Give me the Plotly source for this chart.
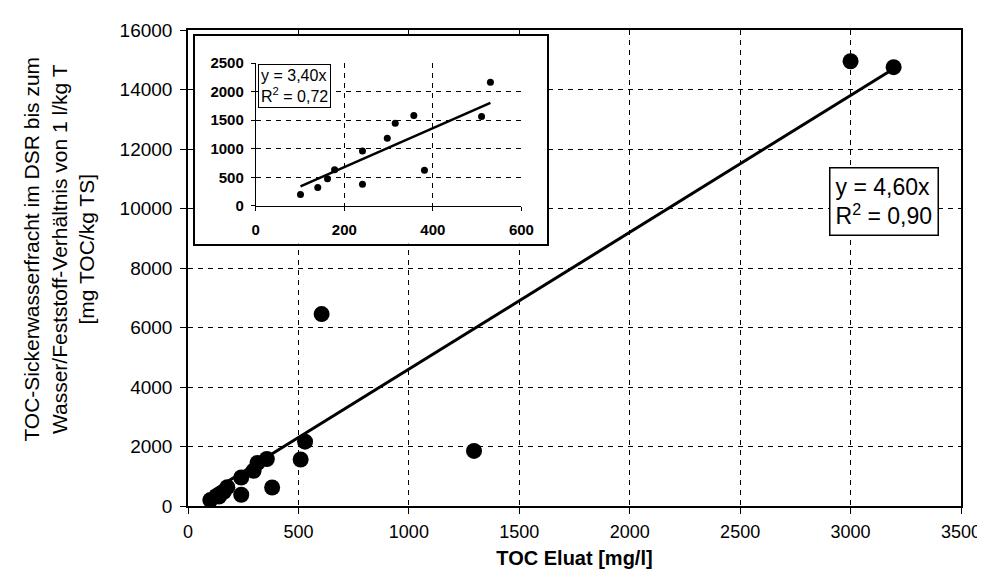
import plotly.graph_objects as go

# ---- data ----
inset_x = [101, 140, 162, 178, 241, 241, 297, 315, 357, 381, 510, 530]
inset_y = [198, 320, 477, 634, 378, 959, 1186, 1448, 1581, 622, 1564, 2163]

extra_x = [605, 1295, 3000, 3195]
extra_y = [6450, 1850, 14950, 14750]
main_x = inset_x + extra_x
main_y = inset_y + extra_y

main_slope = 4.60
inset_slope = 3.40

main_tick_vals = [0, 500, 1000, 1500, 2000, 2500, 3000, 3500]
main_ytick_vals = [0, 2000, 4000, 6000, 8000, 10000, 12000, 14000, 16000]
inset_xtick_vals = [0, 200, 400, 600]
inset_ytick_vals = [0, 500, 1000, 1500, 2000, 2500]

main_fit_x = [min(main_x), max(main_x)]
main_fit_y = [main_slope * v for v in main_fit_x]
inset_fit_x = [min(inset_x), max(inset_x)]
inset_fit_y = [inset_slope * v for v in inset_fit_x]

FONT = "Liberation Sans, Arial, sans-serif"

fig = go.Figure()
fig.add_trace(go.Scatter(x=main_x, y=main_y, mode="markers",
                         marker=dict(color="black", size=16), xaxis="x", yaxis="y",
                         showlegend=False))
fig.add_trace(go.Scatter(x=main_fit_x, y=main_fit_y, mode="lines",
                         line=dict(color="black", width=3), xaxis="x", yaxis="y",
                         showlegend=False))
# invisible trace to create the white inset frame subplot (x2/y2)
fig.add_trace(go.Scatter(x=[None], y=[None], mode="markers", xaxis="x2", yaxis="y2",
                         showlegend=False, hoverinfo="skip"))
fig.add_trace(go.Scatter(x=inset_x, y=inset_y, mode="markers",
                         marker=dict(color="black", size=7), xaxis="x3", yaxis="y3",
                         showlegend=False))
fig.add_trace(go.Scatter(x=inset_fit_x, y=inset_fit_y, mode="lines",
                         line=dict(color="black", width=2.5), xaxis="x3", yaxis="y3",
                         showlegend=False))

grid = dict(showgrid=True, gridcolor="black", gridwidth=1, griddash="5px,5px")

PL, PR, PT, PB = 180, 959, 19, 498
W = PR - PL
H = PB - PT


def px_x(p):
    return (p - PL) / W


def px_y(p):
    return (PB - p) / H


fig.update_layout(
    width=985, height=583,
    margin=dict(l=PL, r=985 - PR, t=PT, b=583 - PB),
    paper_bgcolor="white", plot_bgcolor="white",
    font=dict(family=FONT, color="black", size=20),
    xaxis=dict(domain=[0, 1], range=[0, 3500], tickvals=main_tick_vals, tickformat="d",
               showline=True, linecolor="black", linewidth=1.5, mirror=True,
               ticks="outside", ticklen=6, tickcolor="black", zeroline=False,
               tickfont=dict(size=18), ticklabelstandoff=3,
               title=dict(text="TOC Eluat [mg/l]", font=dict(size=20, weight="bold"),
                          standoff=10),
               **grid),
    yaxis=dict(domain=[0, 1], range=[0, 16000], tickvals=main_ytick_vals, tickformat="d",
               showline=True, linecolor="black", linewidth=1.5, mirror=True,
               ticks="outside", ticklen=6, tickcolor="black", zeroline=False,
               tickfont=dict(size=19), ticklabelstandoff=4,
               **grid),
    # frame subplot
    xaxis2=dict(domain=[px_x(187), px_x(542)], anchor="y2", range=[0, 1],
                showgrid=False, zeroline=False, showticklabels=False, ticks="",
                showline=True, linecolor="black", linewidth=1.5, mirror=True),
    yaxis2=dict(domain=[px_y(234), px_y(25)], anchor="x2", range=[0, 1],
                showgrid=False, zeroline=False, showticklabels=False, ticks="",
                showline=True, linecolor="black", linewidth=1.5, mirror=True),
    # inset plot
    xaxis3=dict(domain=[px_x(248.3), px_x(516)], anchor="y3", range=[0, 600],
                tickvals=inset_xtick_vals, tickformat="d", showline=True, linecolor="black",
                linewidth=1, ticks="outside", ticklen=4, tickcolor="black",
                zeroline=False, tickfont=dict(size=15, weight="bold"),
                ticklabelstandoff=6, **grid),
    yaxis3=dict(domain=[px_y(196), px_y(52.3)], anchor="x3", range=[0, 2500],
                tickvals=inset_ytick_vals, tickformat="d", showline=True, linecolor="black",
                linewidth=1, ticks="outside", ticklen=4, tickcolor="black",
                zeroline=False, tickfont=dict(size=15, weight="bold"),
                ticklabelstandoff=4, **grid),
)

# y-axis title as rotated annotation
fig.add_annotation(xref="paper", yref="paper", x=px_x(50), y=px_y(240),
                   text="TOC-Sickerwasserfracht im DSR bis zum<br>Wasser/Feststoff-Verhältnis von 1 l/kg T<br>[mg TOC/kg TS]",
                   textangle=-90, showarrow=False, font=dict(size=21),
                   xanchor="center", yanchor="middle", align="center")

# main equation box
fig.add_annotation(xref="paper", yref="paper", x=px_x(881), y=px_y(192),
                   text="y = 4,60x<br>R<sup>2</sup> = 0,90", showarrow=False,
                   align="left", font=dict(size=23), bgcolor="white",
                   bordercolor="black", borderwidth=1.5, borderpad=5,
                   xanchor="center", yanchor="middle")

# inset equation box
fig.add_annotation(xref="x3 domain", yref="y3 domain", x=0.01, y=0.995,
                   text="y = 3,40x<br>R<sup>2</sup> = 0,72", showarrow=False,
                   align="left", font=dict(size=16), bgcolor="white",
                   bordercolor="black", borderwidth=1, borderpad=2,
                   xanchor="left", yanchor="top")

fig.write_html("out.html")
